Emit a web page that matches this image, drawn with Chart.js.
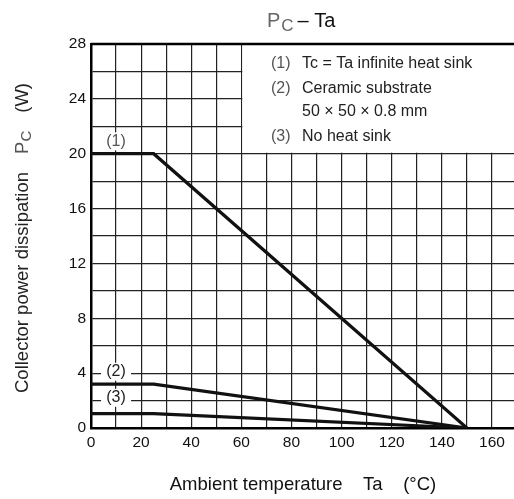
<!DOCTYPE html>
<html>
<head>
<meta charset="utf-8">
<script src="https://cdn.jsdelivr.net/npm/chart.js@4.4.0/dist/chart.umd.min.js"></script>
<style>
    html, body { margin: 0; padding: 0; background: #fff; overflow: hidden; }
    #wrap { width: 517px; height: 499px; position: relative; }
</style>
</head>
<body>
<div id="wrap"><canvas id="pcta"></canvas></div>
<script>
// Ta (°C) break points of each derating curve, and Pc (W) at those points
const infiniteTa = [0, 25, 150]
const infinitePc = [20, 20, 0]
const ceramicTa = [0, 25, 150]
const ceramicPc = [3.2, 3.2, 0]
const noSinkTa = [0, 25, 150]
const noSinkPc = [1.05, 1.05, 0]

const xTickLabels = [0, 20, 40, 60, 80, 100, 120, 140, 160]
const yTickLabels = [0, 4, 8, 12, 16, 20, 24, 28]

const legendLines = [
    ['(1)', 'Tc = Ta infinite heat sink'],
    ['(2)', 'Ceramic substrate'],
    ['', '50 × 50 × 0.8 mm'],
    ['(3)', 'No heat sink']
]

const FONT = '"Liberation Sans", Arial, sans-serif'

function points(xs, ys) {
    return xs.map((x, i) => ({ x: x, y: ys[i] }))
}

function curve(label, xs, ys) {
    return {
        label: label,
        data: points(xs, ys),
        borderColor: '#111',
        borderWidth: 3.2,
        pointRadius: 0,
        tension: 0,
        fill: false
    }
}

// white box behind the notes, top border, titles, curve labels
const decorations = {
    id: 'decorations',
    beforeDatasetsDraw(chart) {
        const ctx = chart.ctx
        const x = chart.scales.x
        const y = chart.scales.y
        const a = chart.chartArea
        ctx.save()
        ctx.fillStyle = '#fff'
        ctx.fillRect(x.getPixelForValue(60) + 1, y.getPixelForValue(28) + 1,
            a.right, y.getPixelForValue(20) - y.getPixelForValue(28) - 2)
        ctx.strokeStyle = '#000'
        ctx.lineWidth = 2.5
        ctx.beginPath()
        ctx.moveTo(a.left, a.top)
        ctx.lineTo(a.right, a.top)
        ctx.stroke()
        ctx.restore()
    },
    afterDatasetsDraw(chart) {
        const ctx = chart.ctx
        const x = chart.scales.x
        const y = chart.scales.y
        ctx.save()

        // notes
        ctx.font = '16px ' + FONT
        ctx.textBaseline = 'middle'
        const rows = [64, 89, 112, 137]
        legendLines.forEach((l, i) => {
            ctx.fillStyle = '#555'
            ctx.fillText(l[0], 271, rows[i])
            ctx.fillStyle = '#222'
            ctx.fillText(l[1], 302, rows[i])
        })

        // curve labels
        const tags = [['(1)', 10, 20.9], ['(2)', 10, 4.1], ['(3)', 10, 2.2]]
        ctx.textAlign = 'center'
        tags.forEach(t => {
            const px = x.getPixelForValue(t[1])
            const py = y.getPixelForValue(t[2])
            ctx.fillStyle = '#fff'
            ctx.fillRect(px - 15, py - 9, 30, 18)
            ctx.fillStyle = t[0] === '(1)' ? '#555' : '#222'
            ctx.fillText(t[0], px, py)
        })

        // title  PC – Ta
        ctx.textAlign = 'left'
        ctx.textBaseline = 'alphabetic'
        ctx.font = '20px ' + FONT
        ctx.fillStyle = '#666'
        ctx.fillText('P', 267, 27)
        const pw = ctx.measureText('P').width
        ctx.font = '17px ' + FONT
        ctx.fillText('C', 267 + pw + 1, 31)
        const cw = ctx.measureText('C').width
        ctx.font = '20px ' + FONT
        ctx.fillStyle = '#111'
        ctx.fillText('– Ta', 267 + pw + cw + 5, 27)

        // x axis title
        ctx.font = '18.5px ' + FONT
        ctx.textAlign = 'center'
        ctx.fillStyle = '#111'
        ctx.fillText('Ambient temperature    Ta    (°C)', 303, 490)

        // y axis title
        ctx.translate(28, 238)
        ctx.rotate(-Math.PI / 2)
        ctx.textAlign = 'left'
        ctx.font = '18.5px ' + FONT
        const p1 = 'Collector power dissipation'
        const w1 = ctx.measureText(p1).width
        const wP = ctx.measureText('P').width
        ctx.font = '15px ' + FONT
        const wC = ctx.measureText('C').width
        ctx.font = '18.5px ' + FONT
        const wW = ctx.measureText('(W)').width
        const gap = 18
        const total = w1 + gap + wP + wC + gap + wW
        let cx = -total / 2
        ctx.fillStyle = '#222'
        ctx.fillText(p1, cx, 0)
        cx += w1 + gap
        ctx.fillStyle = '#555'
        ctx.fillText('P', cx, 0)
        cx += wP
        ctx.font = '15px ' + FONT
        ctx.fillText('C', cx, 3)
        cx += wC + gap
        ctx.font = '18.5px ' + FONT
        ctx.fillStyle = '#222'
        ctx.fillText('(W)', cx, 0)
        ctx.restore()
    }
}

new Chart(document.getElementById('pcta').getContext('2d'), {
    type: 'line',
    data: {
        datasets: [
            curve('(1) Tc = Ta infinite heat sink', infiniteTa, infinitePc),
            curve('(2) Ceramic substrate 50 × 50 × 0.8 mm', ceramicTa, ceramicPc),
            curve('(3) No heat sink', noSinkTa, noSinkPc)
        ]
    },
    options: {
        responsive: true,
        maintainAspectRatio: false,
        animation: false,
        layout: { padding: { top: 44, right: 0, left: 0, bottom: 0 } },
        plugins: {
            legend: { display: false },
            title: { display: false },
            tooltip: { enabled: false }
        },
        scales: {
            x: {
                type: 'linear',
                min: 0,
                max: 170,
                afterFit: s => { s.height = 71; s.paddingRight = 0 },
                ticks: {
                    stepSize: 10,
                    autoSkip: false,
                    maxRotation: 0,
                    padding: 5,
                    color: '#111',
                    font: { size: 15.5, family: FONT },
                    callback: v => xTickLabels.includes(v) ? String(v) : ''
                },
                grid: { color: '#222', lineWidth: 1.2, drawTicks: false },
                border: { color: '#000', width: 2.5 }
            },
            y: {
                min: 0,
                max: 28,
                afterFit: s => { s.width = 91 },
                ticks: {
                    stepSize: 2,
                    autoSkip: false,
                    padding: 5,
                    color: '#111',
                    font: { size: 15.5, family: FONT },
                    callback: v => yTickLabels.includes(v) ? String(v) : ''
                },
                grid: { color: '#222', lineWidth: 1.2, drawTicks: false },
                border: { color: '#000', width: 2.5 }
            }
        }
    },
    plugins: [decorations]
})
</script>
</body>
</html>
